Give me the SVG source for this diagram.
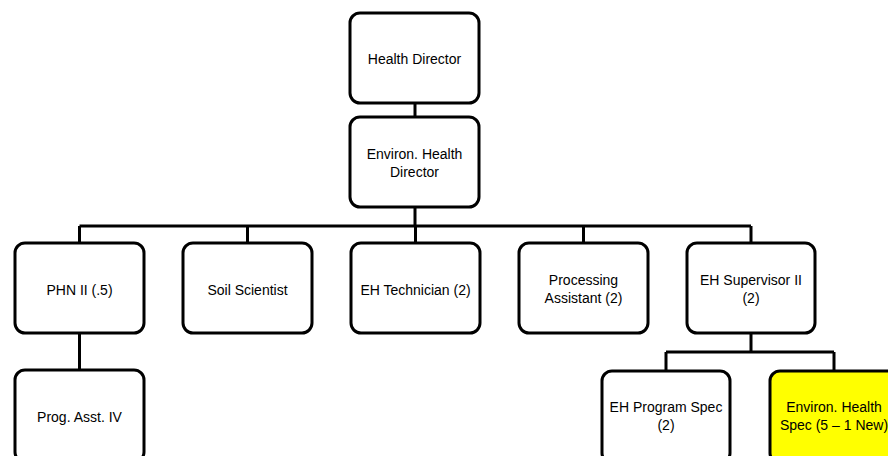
<svg xmlns="http://www.w3.org/2000/svg" width="888" height="456" viewBox="0 0 888 456">
<style>
.box{fill:#fff;stroke:#000;stroke-width:3}
.hl{fill:#ffff00}
.lbl{font-family:"Liberation Sans",Arial,sans-serif;font-size:14px;fill:#000;text-anchor:middle}
.conn{fill:none;stroke:#000;stroke-width:3}
</style>
<rect width="888" height="456" fill="#fff"/>
<g id="connectors">
<path class="conn" d="M415 103V117"/>
<path class="conn" d="M415 207V226M79.5 226H751M79.5 226V243M247.5 226V243M415.5 226V243M583.5 226V243M751 226V243"/>
<path class="conn" d="M79.5 333V370"/>
<path class="conn" d="M751 333V352M666 352H834M666 352V371M834 352V371"/>
</g>
<g id="health-director"><rect class="box" x="350" y="13" width="129" height="90" rx="10"/><text class="lbl" x="414.5" y="64">Health Director</text></g>
<g id="env-health-director"><rect class="box" x="350" y="117" width="129" height="90" rx="10"/><text class="lbl" x="414.5" y="159">Environ. Health</text><text class="lbl" x="414.5" y="177">Director</text></g>
<g id="phn"><rect class="box" x="15" y="243" width="129" height="90" rx="10"/><text class="lbl" x="79.5" y="295">PHN II (.5)</text></g>
<g id="soil"><rect class="box" x="183" y="243" width="129" height="90" rx="10"/><text class="lbl" x="247.5" y="295">Soil Scientist</text></g>
<g id="eh-tech"><rect class="box" x="351" y="243" width="129" height="90" rx="10"/><text class="lbl" x="415.5" y="295">EH Technician (2)</text></g>
<g id="processing"><rect class="box" x="519" y="243" width="129" height="90" rx="10"/><text class="lbl" x="583.5" y="285">Processing</text><text class="lbl" x="583.5" y="303">Assistant (2)</text></g>
<g id="eh-supervisor"><rect class="box" x="687" y="243" width="128" height="90" rx="10"/><text class="lbl" x="751" y="285">EH Supervisor II</text><text class="lbl" x="751" y="303">(2)</text></g>
<g id="prog-asst"><rect class="box" x="15" y="370" width="129" height="92" rx="10"/><text class="lbl" x="79.5" y="422">Prog. Asst. IV</text></g>
<g id="eh-program-spec"><rect class="box" x="602" y="371" width="128" height="92" rx="10"/><text class="lbl" x="666" y="412">EH Program Spec</text><text class="lbl" x="666" y="430">(2)</text></g>
<g id="env-health-spec"><rect class="box hl" x="770" y="371" width="128" height="92" rx="10"/><text class="lbl" x="834" y="412">Environ. Health</text><text class="lbl" x="834" y="430">Spec (5 – 1 New)</text></g>
</svg>
